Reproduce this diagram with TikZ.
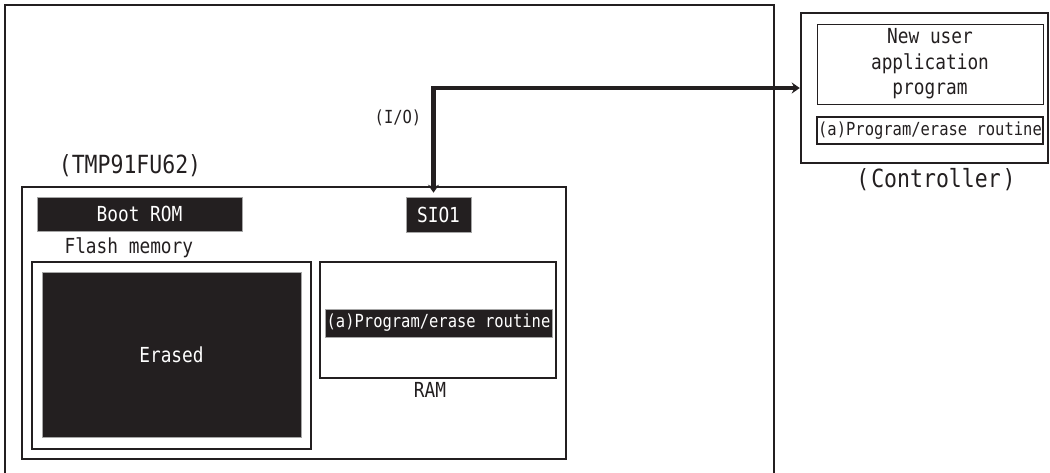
\documentclass[tikz,border=0pt]{standalone}
\usepackage{fontspec}
\newfontfamily\monofnt[FakeStretch=0.86]{DejaVu Sans Mono}
\usetikzlibrary{arrows.meta}
\definecolor{ink}{RGB}{35,31,32}
\tikzset{
  base/.style={font=\monofnt\fontsize{20.7}{25.5}\selectfont, text=ink},
  small/.style={font=\monofnt\fontsize{18}{20}\selectfont, text=ink},
  large/.style={font=\monofnt\fontsize{25}{28}\selectfont, text=ink},
  frame/.style={draw=ink, rectangle, inner sep=0pt},
  blackbox/.style={fill=ink, draw=gray!70, line width=0.6pt, rectangle, inner sep=0pt, text=white},
  bus/.style={draw=ink, line width=4.6pt, {Stealth[length=8pt,width=11pt]}-{Stealth[length=8pt,width=11pt]}}
}
\begin{document}
\begin{tikzpicture}[x=1pt,y=-1pt]
\useasboundingbox (0,0) rectangle (1050,472);
% outer board (open at the bottom)
\draw[ink, line width=2pt] (5,480) -- (5,5) -- (774,5) -- (774,480);
% chip
\node[frame, line width=1.5pt, minimum width=544pt, minimum height=272pt] (chip) at (294,323) {};
\node[large] (chipname) at (130,166) {(TMP91FU62)};
\node[blackbox, base, text=white, minimum width=205pt, minimum height=34pt] (boot) at (139.5,214) {Boot ROM};
\node[blackbox, base, text=white, minimum width=65pt, minimum height=35pt] (sio) at (438.5,214.5) {SIO1};
\node[base, anchor=west] (flashlbl) at (61,248) {Flash memory};
\node[frame, line width=2pt, minimum width=279pt, minimum height=187pt] (flash) at (171.5,355.5) {};
\node[blackbox, base, text=white, minimum width=259pt, minimum height=165pt] (erased) at (171.5,354.5) {Erased};
\node[frame, line width=2pt, minimum width=236pt, minimum height=116pt] (ram) at (438,320) {};
\node[blackbox, small, text=white, minimum width=227pt, minimum height=28pt] (ramroutine) at (438.5,323) {(a)Program/erase routine};
\node[base] (ramlbl) at (430,390) {RAM};
% controller
\node[frame, line width=2.5pt, minimum width=247pt, minimum height=150pt] (ctrl) at (924.5,88) {};
\node[frame, line width=1pt, minimum width=226pt, minimum height=80pt, base, align=center] (newapp) at (930,64) {New user\\application\\program};
\node[frame, line width=1.8pt, minimum width=226pt, minimum height=27pt, small] (ctrlroutine) at (930,130.5) {(a)Program/erase routine};
\node[large] (ctrllbl) at (936,180) {(\hspace{2pt}Controller\hspace{2pt})};
% bus
\node[small] (io) at (398,118) {(I/O)};
\draw[bus, shorten <=4pt] ([xshift=-5pt]sio.north) |- (ctrl.west);
\end{tikzpicture}
\end{document}
